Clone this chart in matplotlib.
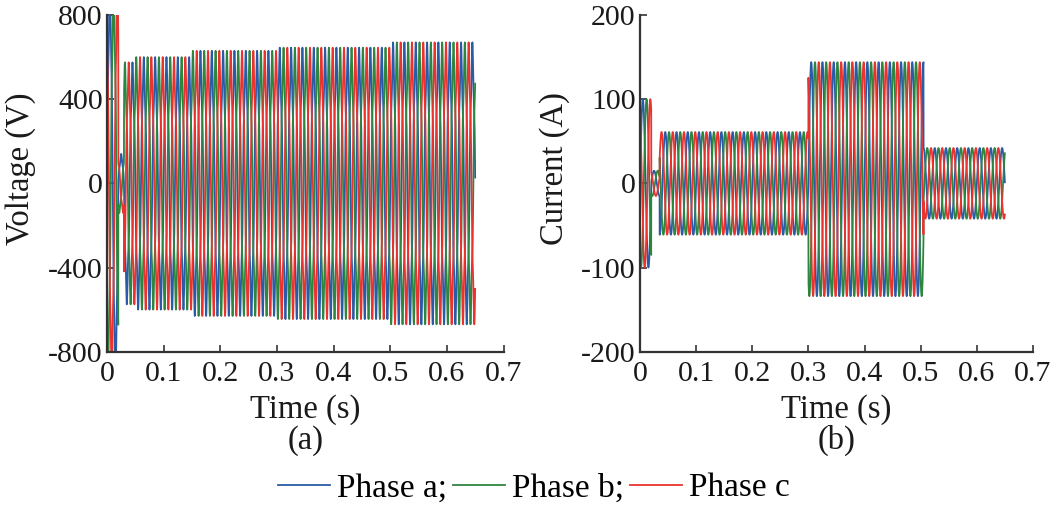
import matplotlib
matplotlib.use("Agg")
import matplotlib.pyplot as plt
import numpy as np

plt.rcParams["font.family"] = ["Liberation Serif", "DejaVu Serif"]
plt.rcParams["axes.unicode_minus"] = False

# grid frequency and simulation span
freq = 50
t_end = 0.65

# voltage: peak of each stretch between the edges (first one overshoots the axis)
volt_edges = [0.0, 0.02, 0.03, 0.05, 0.15, 0.30, 0.50, 0.65]
volt_amps = [950, 140, 575, 600, 630, 645, 670]

# current: load steps at 0.3 s and 0.5 s
curr_edges = [0.0, 0.02, 0.035, 0.30, 0.505, 0.65]
curr_amps = [100, 15, 61, 139, 42]
curr_offset = [0, 0, 0, 5, 0]

phase_names = ["Phase a;", "Phase b;", "Phase c"]
phase_shift = [0, -120, 120]
phase_colors = ["#2b5aa6", "#2e8540", "#e8332e"]


def piecewise(t, edges, vals):
    idx = np.clip(np.searchsorted(edges, t, side="right") - 1, 0, len(vals) - 1)
    return np.asarray(vals, dtype=float)[idx]


t = np.arange(0, t_end, 1e-4)
theta = 2 * np.pi * freq * t

fig = plt.figure(figsize=(10.53, 5.09), dpi=100)
ax_v = fig.add_axes([0.1016, 0.309, 0.3766, 0.6615])
ax_i = fig.add_axes([0.6078, 0.309, 0.3732, 0.6615])

amp_v = piecewise(t, volt_edges, volt_amps)
amp_i = piecewise(t, curr_edges, curr_amps)
off_i = piecewise(t, curr_edges, curr_offset)

lines = []
for name, shift, col in zip(phase_names, phase_shift, phase_colors):
    ph = theta + np.deg2rad(shift)
    v = amp_v * (0.92 * np.sin(ph) + 0.08 * np.sin(5 * ph))
    i = amp_i * np.sin(ph) + off_i
    ln, = ax_v.plot(t, v, color=col, lw=1.3, label=name)
    ax_i.plot(t, i, color=col, lw=1.3)
    lines.append(ln)

for ax, lim, ticks, lab, tag in [
    (ax_v, 800, [-800, -400, 0, 400, 800], "Voltage (V)", "(a)"),
    (ax_i, 200, [-200, -100, 0, 100, 200], "Current (A)", "(b)"),
]:
    ax.set_xlim(0, 0.7)
    ax.set_ylim(-lim, lim)
    ax.set_yticks(ticks)
    ax.set_xticks(np.arange(0, 0.71, 0.1))
    ax.set_xticklabels(["0", "0.1", "0.2", "0.3", "0.4", "0.5", "0.6", "0.7"])
    ax.spines["top"].set_visible(False)
    ax.spines["right"].set_visible(False)
    for s in ["left", "bottom"]:
        ax.spines[s].set_color("#333333")
        ax.spines[s].set_linewidth(1.6)
    ax.tick_params(direction="in", length=5, width=1.2, colors="#333333",
                   labelcolor="#1a1a1a", labelsize=21.5)
    ax.tick_params(axis="y", pad=3)
    ax.tick_params(axis="x", pad=7)
    ax.set_ylabel(lab, fontsize=23.5, color="#1a1a1a")
    ax.yaxis.set_label_coords(-0.178, 0.544)
    ax.set_xlabel("Time (s)", fontsize=23.5, labelpad=5, color="#1a1a1a")
    pos = ax.get_position()
    fig.text(pos.x0 + pos.width / 2, 0.134, tag, fontsize=23.5,
             ha="center", va="center", color="#1a1a1a")

fig.legend(handles=lines, labels=phase_names, loc="center",
           bbox_to_anchor=(0.507, 0.041), ncol=3, frameon=False,
           fontsize=24, handlelength=1.55, handletextpad=0.2,
           columnspacing=0.2, borderpad=0)

fig.savefig("out.png", dpi=100)
